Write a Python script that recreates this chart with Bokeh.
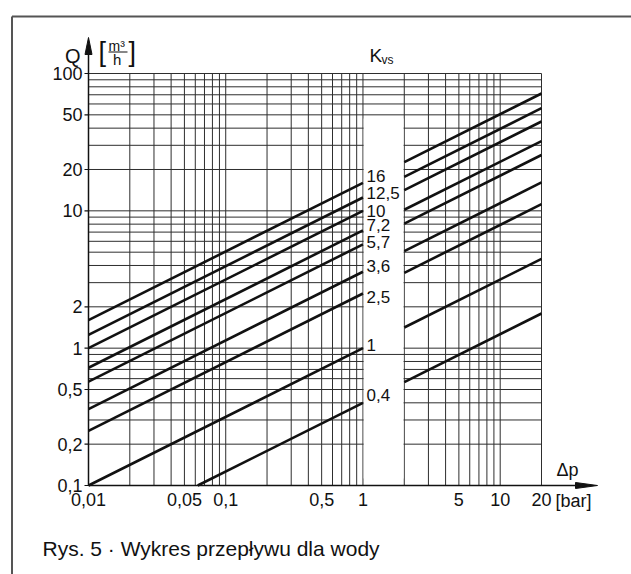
import numpy as np
from bokeh.plotting import figure
from bokeh.models import Range1d, LogScale
from bokeh.core.properties import value
from bokeh.embed import file_html
from bokeh.resources import INLINE

# ---- data ----
kvs = [16, 12.5, 10, 7.2, 5.7, 3.6, 2.5, 1, 0.4]
kvs_labels = ["16", "12,5", "10", "7,2", "5,7", "3,6", "2,5", "1", "0,4"]
x_ticks = [0.01, 0.05, 0.1, 0.5, 1, 5, 10, 20]
x_tick_labels = ["0,01", "0,05", "0,1", "0,5", "1", "5", "10", "20"]
y_ticks = [0.1, 0.2, 0.5, 1, 2, 10, 20, 50, 100]
y_tick_labels = ["0,1", "0,2", "0,5", "1", "2", "10", "20", "50", "100"]
x_min, x_max = 0.01, 20
y_min, y_max = 0.1, 100
gap = [1, 2]          # Δp range left free for the Kvs labels
band_cross_q = 0.9    # the one grid line that runs through the free band

# ---- style / layout ----
FONT = "Liberation Sans"
INK = "#111111"
GRID = "#2e2e2e"
W, H = 631, 574
XL, XR, YT, YB = 88, 541, 73, 485      # data frame in canvas px
LX = np.log10(x_max / x_min)
LY = np.log10(y_max / y_min)

def xd(px):  # canvas px -> data x
    return x_min * 10 ** ((px - XL) / (XR - XL) * LX)

def yd(py):  # canvas px -> data y
    return y_min * 10 ** ((YB - py) / (YB - YT) * LY)

def ys(v):   # data y -> canvas px
    return YB - np.log10(v / y_min) / LY * (YB - YT)

p = figure(width=W, height=H, x_axis_type="log", y_axis_type="log",
           x_axis_location=None, y_axis_location=None,
           x_range=Range1d(xd(0), xd(W)), y_range=Range1d(yd(H), yd(0)),
           output_backend="svg", toolbar_location=None, min_border=0)
p.x_scale = LogScale()
p.y_scale = LogScale()
p.background_fill_color = "white"
p.border_fill_color = "white"
p.outline_line_color = None
p.xgrid.visible = False
p.ygrid.visible = False

# ---- grid: 1..9 in every decade ----
def decade_ticks(lo, hi):
    out = []
    e = int(np.floor(np.log10(lo) + 1e-9))
    while 10 ** e <= hi:
        for m in range(1, 10):
            v = round(m * 10.0 ** e, 8)
            if lo * (1 - 1e-9) <= v <= hi * (1 + 1e-9):
                out.append(v)
        e += 1
    return out

gx = decade_ticks(x_min, x_max)
gy = decade_ticks(y_min, y_max)
p.segment(x0=gx, y0=[y_min] * len(gx), x1=gx, y1=[y_max] * len(gx),
          line_color=GRID, line_width=1)
p.segment(x0=[x_min] * len(gy), y0=gy, x1=[x_max] * len(gy), y1=gy,
          line_color=GRID, line_width=1)

# white band (free area for the Kvs labels)
p.quad(left=[gap[0] * 1.012], right=[gap[1] * 0.988], bottom=[yd(478)], top=[yd(118)],
       fill_color="white", line_color=None)
p.segment(x0=[gap[0]], y0=[band_cross_q], x1=[gap[1]], y1=[band_cross_q],
          line_color=GRID, line_width=1)

# ---- Kvs lines  Q = Kvs * sqrt(dp), broken between gap[0] and gap[1] ----
for k in kvs:
    x_start = max(x_min, (y_min / k) ** 2)
    x_end = min(x_max, (y_max / k) ** 2)
    p.line([x_start, gap[0]], [k * np.sqrt(x_start), k * np.sqrt(gap[0])],
           line_color=INK, line_width=2.6)
    p.line([gap[1], x_end], [k * np.sqrt(gap[1]), k * np.sqrt(x_end)],
           line_color=INK, line_width=2.6)

# Kvs labels, nudged (px) so they do not collide
lab_dy = [-7, -5, 0, -5, -2, -6, 3, -3, -8]
p.text(x=[xd(366)] * len(kvs), y=[yd(ys(k) + d) for k, d in zip(kvs, lab_dy)],
       text=kvs_labels, text_font=value(FONT), text_font_size="17px", text_color=INK,
       text_baseline="middle", text_align="left")

# ---- axes ----
# Q axis with arrow
p.segment(x0=[x_min], y0=[y_min], x1=[x_min], y1=[yd(50)], line_color=INK, line_width=1.5)
p.patch(x=[x_min, xd(XL - 3.5), xd(XL + 3.5)], y=[yd(37), yd(54), yd(54)],
        fill_color=INK, line_color=INK, line_width=1)
# Δp axis with arrow
p.segment(x0=[x_min], y0=[y_min], x1=[xd(577)], y1=[y_min], line_color=INK, line_width=1.5)
p.patch(x=[xd(597), xd(575), xd(575)], y=[y_min, yd(YB - 3), yd(YB + 3)],
        fill_color=INK, line_color=INK, line_width=1)

# y ticks + labels
p.segment(x0=[xd(XL - 4)] * len(y_ticks), y0=y_ticks, x1=[x_min] * len(y_ticks), y1=y_ticks,
          line_color=INK, line_width=1.2)
p.text(x=[xd(XL - 6)] * len(y_ticks), y=y_ticks, text=y_tick_labels,
       text_font=value(FONT), text_font_size="18px", text_color=INK,
       text_align="right", text_baseline="middle")
# x labels
p.text(x=x_ticks, y=[yd(499)] * len(x_ticks), text=x_tick_labels,
       text_font=value(FONT), text_font_size="18px", text_color=INK,
       text_align="center", text_baseline="middle")

def txt(px, py, s, size="18px", align="left"):
    p.text(x=[xd(px)], y=[yd(py)], text=[s], text_font=value(FONT), text_font_size=size,
           text_color=INK, text_align=align, text_baseline="middle")

# axis titles
txt(80, 55, "Q", "20px", "right")
txt(98, 51, "[", "27px")
txt(128, 51, "]", "27px")
txt(108, 45, "m³", "14px")
p.segment(x0=[xd(108)], y0=[yd(51.5)], x1=[xd(127)], y1=[yd(51.5)], line_color=INK, line_width=1.2)
txt(112.5, 58.5, "h", "15px")

txt(369, 55, "K", "19px")
txt(381, 59, "vs", "12px")

txt(556, 469, "Δp", "18px")
txt(555, 500, "[bar]", "18px")

# ---- outer frame and caption ----
p.segment(x0=[xd(11.5)], y0=[yd(16)], x1=[xd(W + 5)], y1=[yd(16)], line_color="#555555", line_width=2)
p.segment(x0=[xd(11.5)], y0=[yd(16)], x1=[xd(11.5)], y1=[yd(H + 5)], line_color="#555555", line_width=2)

txt(42, 548, "Rys. 5 · Wykres przepływu dla wody", "21px")

open("out.html", "w").write(file_html(p, INLINE))
